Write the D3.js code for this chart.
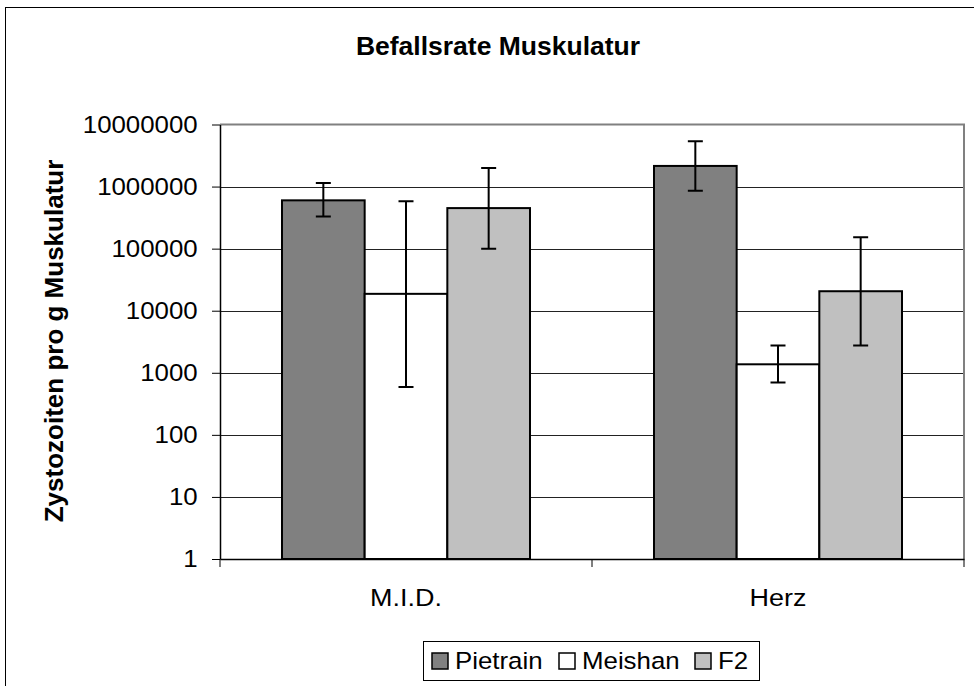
<!DOCTYPE html>
<html>
<head>
<meta charset="utf-8">
<script src="https://cdn.jsdelivr.net/npm/d3@7/dist/d3.min.js"></script>
<style>
  html, body { margin: 0; padding: 0; background: #fff; }
  svg { display: block; font-family: "Liberation Sans", Arial, sans-serif; }
</style>
</head>
<body>
<svg id="chart" width="974" height="686"></svg>
<script>
// Categories, series and values (Zystozoiten pro g Muskulatur)
const categories = ["M.I.D.", "Herz"];
const seriesNames = ["Pietrain", "Meishan", "F2"];
const seriesColors = ["#808080", "#ffffff", "#c0c0c0"];
const meanPietrain = [600000, 2150000];
const meanMeishan = [18700, 1370];
const meanF2 = [450000, 20600];
const lowPietrain = [330000, 860000];
const lowMeishan = [590, 700];
const lowF2 = [100000, 2740];
const highPietrain = [1140000, 5350000];
const highMeishan = [580000, 2740];
const highF2 = [2000000, 152000];
const yTickValues = [1, 10, 100, 1000, 10000, 100000, 1000000, 10000000];

const means = [meanPietrain, meanMeishan, meanF2];
const lows = [lowPietrain, lowMeishan, lowF2];
const highs = [highPietrain, highMeishan, highF2];

const rows = [];
categories.forEach((c, ci) => {
  seriesNames.forEach((s, si) => {
    rows.push({ cat: c, series: s, color: seriesColors[si],
      value: means[si][ci], low: lows[si][ci], high: highs[si][ci] });
  });
});

const svg = d3.select("#chart");
const plot = { left: 220, right: 964, top: 124.5, bottom: 559 };
const stretch = 1.1;

// outer chart frame
svg.append("rect")
  .attr("x", 5.5).attr("y", 7.5).attr("width", 990).attr("height", 700)
  .attr("fill", "#fff").attr("stroke", "#000").attr("stroke-width", 1);

const x = d3.scaleBand().domain(categories).range([plot.left, plot.right]).padding(0);
const xs = d3.scaleBand().domain(seriesNames).range([0, x.bandwidth()])
  .paddingInner(0).paddingOuter(0.75);
const y = d3.scaleLog().domain([1, 1e7]).range([plot.bottom, plot.top]);

// gridlines
svg.append("g")
  .selectAll("line")
  .data(yTickValues.slice(1, -1))
  .join("line")
  .attr("x1", plot.left).attr("x2", plot.right)
  .attr("y1", d => Math.round(y(d)) + 0.5).attr("y2", d => Math.round(y(d)) + 0.5)
  .attr("stroke", "#222").attr("stroke-width", 1);

// plot border (top and right)
svg.append("path")
  .attr("d", `M${plot.left},${plot.top}H${plot.right}V${plot.bottom}`)
  .attr("fill", "none").attr("stroke", "#808080").attr("stroke-width", 2);

// bars
svg.append("g")
  .selectAll("rect")
  .data(rows)
  .join("rect")
  .attr("x", d => x(d.cat) + xs(d.series))
  .attr("width", xs.bandwidth())
  .attr("y", d => y(d.value))
  .attr("height", d => y(1) - y(d.value))
  .attr("fill", d => d.color)
  .attr("stroke", "#000").attr("stroke-width", 2);

// error bars
const eb = svg.append("g").attr("stroke", "#000").attr("stroke-width", 2).attr("fill", "none");
eb.selectAll("path")
  .data(rows)
  .join("path")
  .attr("d", d => {
    const cx = x(d.cat) + xs(d.series) + xs.bandwidth() / 2;
    const y1 = y(d.high), y2 = y(d.low);
    return `M${cx},${y1}V${y2}M${cx - 7.5},${y1}H${cx + 7.5}M${cx - 7.5},${y2}H${cx + 7.5}`;
  });

// y axis
const yAxis = svg.append("g")
  .attr("transform", `translate(${plot.left},0)`)
  .call(d3.axisLeft(y).tickValues(yTickValues).tickFormat(d3.format("d")).tickSize(8).tickSizeOuter(0));
yAxis.select(".domain").attr("stroke", "#000").attr("stroke-width", 1.5);
yAxis.selectAll(".tick line").attr("stroke", "#000");
yAxis.selectAll(".tick text")
  .attr("font-size", 23.5).attr("fill", "#000")
  .attr("x", -22.3 / stretch)
  .attr("dy", "0.34em")
  .attr("transform", `scale(${stretch},1)`);

// x axis
const xAxis = svg.append("g")
  .attr("transform", `translate(0,${plot.bottom})`)
  .call(d3.axisBottom(x).tickSize(0).tickSizeOuter(0));
xAxis.select(".domain").attr("stroke", "#000").attr("stroke-width", 1.5);
xAxis.selectAll(".tick text")
  .attr("font-size", 24.5).attr("fill", "#000")
  .attr("y", 47).attr("dy", 0)
  .attr("transform", `scale(${stretch},1)`)
  .attr("x", d => 0);
// category separator ticks
svg.append("g")
  .selectAll("line")
  .data([plot.left, plot.left + x.bandwidth(), plot.right])
  .join("line")
  .attr("x1", d => d).attr("x2", d => d)
  .attr("y1", plot.bottom).attr("y2", plot.bottom + 8)
  .attr("stroke", "#000").attr("stroke-width", 1);

// title
svg.append("text")
  .attr("x", 498).attr("y", 55)
  .attr("text-anchor", "middle")
  .attr("font-size", 26.5).attr("font-weight", "bold")
  .text("Befallsrate Muskulatur");

// y axis title
svg.append("text")
  .attr("transform", "translate(62.5,341) rotate(-90)")
  .attr("text-anchor", "middle")
  .attr("font-size", 26).attr("font-weight", "bold")
  .text("Zystozoiten pro g Muskulatur");

// legend
const legend = svg.append("g");
legend.append("rect")
  .attr("x", 423.5).attr("y", 641.5).attr("width", 336).attr("height", 39)
  .attr("fill", "#fff").attr("stroke", "#000").attr("stroke-width", 1);
const legendX = [432, 559, 695];
const items = legend.selectAll("g.item")
  .data(seriesNames)
  .join("g").attr("class", "item")
  .attr("transform", (d, i) => `translate(${legendX[i]},653)`);
items.append("rect")
  .attr("width", 16).attr("height", 16)
  .attr("fill", (d, i) => seriesColors[i])
  .attr("stroke", "#000").attr("stroke-width", 1.5);
items.append("text")
  .attr("x", 23 / stretch).attr("y", 15.5)
  .attr("transform", `scale(${stretch},1)`)
  .attr("font-size", 23.5)
  .text(d => d);
</script>
</body>
</html>
